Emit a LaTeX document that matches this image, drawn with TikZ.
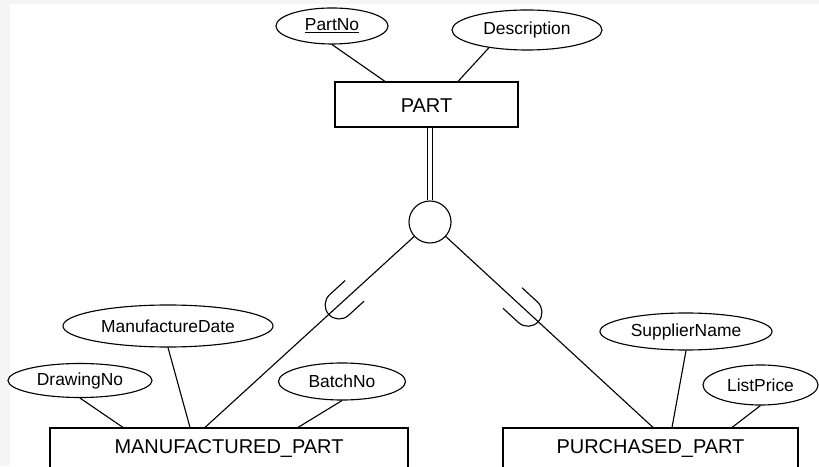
\documentclass[tikz,border=0pt]{standalone}
\usepackage{fontspec}
\setmainfont{Liberation Sans}
\usetikzlibrary{shapes,calc}
\tikzset{
  attr/.style={draw,ellipse,inner sep=0pt,font=\fontsize{12.4}{14}\selectfont},
  entity/.style={draw,rectangle,inner sep=0pt,font=\fontsize{14.2}{16}\selectfont},
  subset/.pic={\draw(-35,14)--(-14,14)arc(90:-90:14)--(-35,-14);}
}
\begin{document}
\begin{tikzpicture}[x=.025cm,y=.025cm,line width=.8pt]
\clip(0,0)rectangle(819,466);
%scan edge
\fill[black!4](0,0)rectangle(10,466);
\fill[black!4](0,462)rectangle(819,466);
%superclass
\node[entity,minimum width=4.575cm,minimum height=1.125cm,text height=1.15em](part)at(426.5,361.5){PART};
\node[attr,minimum width=2.8cm,minimum height=.9cm](pno)at(332,440){\underline{PartNo}};
\node[attr,minimum width=3.75cm,minimum height=1cm](desc)at(527,436){Description};
\draw(pno.south)--([shift={(-41.5,0)}]part.north);
\draw(desc.205)--([shift={(31.5,0)}]part.north);
%specialization circle
\node[draw,circle,inner sep=0pt,minimum size=1.05cm](sp)at(430,244){};
\draw[double,double distance=3pt](part.south-|sp)--(sp.north);
%subclasses
\node[entity,minimum width=8.95cm,minimum height=1.05cm](mp)at(229,17){MANUFACTURED\_PART};
\node[entity,minimum width=7.375cm,minimum height=1.05cm](pp)at(650.5,17){PURCHASED\_PART};
\draw(sp)--([shift={(-24,0)}]mp.north)pic[pos=.408,sloped,allow upside down]{subset};
\draw(sp)--([shift={(2.5,0)}]pp.north)pic[pos=.446,sloped,allow upside down]{subset};
%attributes of MANUFACTURED_PART
\node[attr,minimum width=5.25cm,minimum height=1.05cm](mdate)at(168,140){ManufactureDate};
\node[attr,minimum width=3.6cm,minimum height=.85cm](dno)at(80,85.5){DrawingNo};
\node[attr,minimum width=3.175cm,minimum height=.925cm](bno)at(342,84.5){BatchNo};
\draw(dno.south)--([shift={(-106,0)}]mp.north);
\draw(mdate.south)--([shift={(-39,0)}]mp.north);
\draw(bno.south)--([shift={(69,0)}]mp.north);
%attributes of PURCHASED_PART
\node[attr,minimum width=4.3cm,minimum height=.925cm](sname)at(686,134.5){SupplierName};
\node[attr,minimum width=2.875cm,minimum height=1cm](lprice)at(760.5,81){ListPrice};
\draw(sname.south)--([shift={(21.5,0)}]pp.north);
\draw(lprice.south)--([shift={(81.5,0)}]pp.north);
\end{tikzpicture}
\end{document}
